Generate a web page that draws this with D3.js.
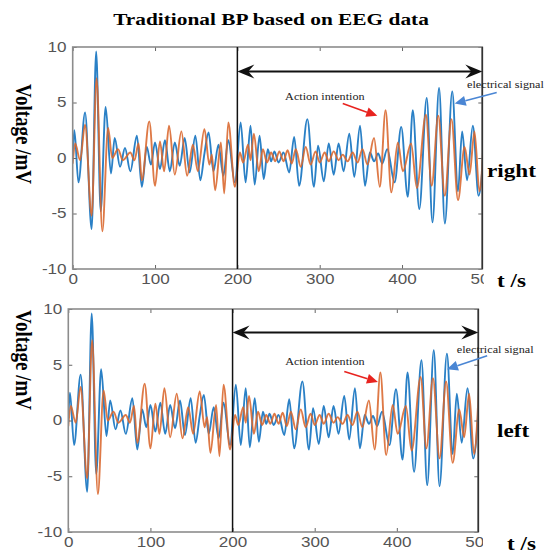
<!DOCTYPE html>
<html lang="en">
<head>
<meta charset="UTF-8">
<title>Traditional BP based on EEG data</title>
<script src="https://d3js.org/d3.v7.min.js"></script>
<style>
  body { margin: 0; background: #fff; }
  .tick text { font-family: "Liberation Sans", Arial, sans-serif; font-size: 14px; fill: #555; }
  .tick line { stroke: #666; }
  .serif { font-family: "Liberation Serif", "Times New Roman", serif; }
</style>
</head>
<body>
<div id="chart"></div>
<script>
var width = 550, height = 559;
// the source picture is stretched sideways, so text gets the same stretch
var SX = 1.22;

// ---- data ----
var xTicks = [0, 100, 200, 300, 400, 500];
var yTicks = [-10, -5, 0, 5, 10];
var yDomain = [-10, 10];
var markTime = 200;
var panelNames = ["right", "left"];

// electrical signal (blue): [time, voltage] turning points
var electricalSignal = [
  [0,0.2],[2,2.5],[7,-2.2],[15,4.1],[23,-6.4],[28.5,9.6],[34,-4.8],[40,4.6],[46.5,-1.4],[51,1.8],
  [57.5,-0.8],[63.5,0.9],[70,-1.2],[78,2.0],[84,-2.6],[90,1.0],[95,-0.6],[100,1.4],[106,-1.0],[112,1.6],
  [118,-1.2],[124,1.4],[130,-0.7],[136,1.8],[142,-1.3],[149,2.0],[155,-2.0],[160,0.4],[165,2.3],[171,-1.2],
  [177,1.2],[183,-1.6],[189,1.6],[197,-2.2],[204,3.2],[210,-2.2],[216,2.9],[221,-2.4],[227,2.0],[232,-1.9],
  [237,0.8],[241,-0.3],[245,0.6],[250,-0.4],[256,0.5],[263,-1.3],[269,1.9],[275,-2.5],[285,3.5],[293,-2.6],
  [298,1.1],[305,-2.1],[311,1.3],[317,-1.5],[323,1.3],[329,-1.2],[336,2.2],[342,-1.7],[349,2.9],[355,-2.5],
  [361,0.5],[366,-0.3],[371,0.4],[376,-0.5],[382,0.8],[391,-2.2],[399,2.8],[407,-3.5],[413,4.3],[421,-4.6],
  [430,5.4],[437,-5.8],[445,6.3],[452,-5.9],[461,6.0],[468,-3.0],[473,2.4],[479,-2.0],[486,2.9],[493,-3.4],
  [500,1.5]
];

// action intention (orange): [time, voltage] turning points
var actionIntention = [
  [0,-0.5],[3,1.3],[9,-0.2],[15,3.0],[23,-5.2],[29,7.2],[36,-6.6],[43,2.7],[48,0.0],[55,0.8],
  [61,-0.2],[70,0.5],[75,-0.2],[80,1.3],[84,-2.0],[93,3.3],[100,-2.5],[106,1.5],[111,-1.2],[117,2.9],
  [124,-1.5],[132,2.4],[139,-1.6],[146,1.2],[152,-1.2],[160,2.6],[166,-0.6],[169,0.3],[173,-2.9],[180,1.4],
  [184,-3.2],[189,3.2],[197,-2.6],[203,0.5],[207,-0.4],[213,1.2],[216,-0.2],[220,2.2],[226,-1.2],[231,0.8],
  [236,-0.4],[241,0.5],[246,-0.3],[251,0.6],[256,-0.3],[261,0.7],[266,-0.5],[271,0.8],[277,-0.8],[283,1.0],
  [289,-0.6],[295,0.6],[300,-0.4],[306,0.5],[311,-0.3],[317,0.6],[323,-0.2],[328,0.3],[334,-0.3],[340,0.5],
  [346,-0.4],[352,0.8],[358,-0.6],[366,1.8],[373,-2.6],[380,4.3],[387,-3.1],[395,1.4],[401,-1.2],[411,1.3],
  [418,-2.7],[429,3.9],[436,-2.5],[444,3.8],[452,-3.4],[460,3.5],[468,-3.8],[476,1.0],[482,-1.5],[488,2.4],
  [494,-3.0],[500,3.0]
];

// ---- layout of the two panels ----
var panels = [
  { top: 47, bottom: 269, left: 72.7, right: 482.3, xMax: 497.5, clipRight: 483.8,
    arrowV: 7.8, red: [[328,4.9],[370,3.8]], redText: [258,5.2],
    blue: [[515,5.9],[464,4.9]], blueText: [479,6.3],
    yLabelY: 134, sideX: 487, sideY: 177, unitX: 497, unitY: 287 },
  { top: 309, bottom: 532, left: 68.3, right: 478.3, xMax: 499.2, clipRight: 483,
    arrowV: 7.9, red: [[336,4.4],[377,3.45]], redText: [264,5.0],
    blue: [[510,5.8],[461,4.6]], blueText: [473,6.05],
    yLabelY: 360, sideX: 497, sideY: 437, unitX: 507, unitY: 550 }
];

var blue = "#2a80c6", orange = "#d9662c";

var svg = d3.select("#chart").append("svg")
    .attr("width", width)
    .attr("height", height);

function stretchedText(sel, x, y, txt) {
  return sel.append("text")
    .attr("transform", "translate(" + x + "," + y + ") scale(" + SX + ",1)")
    .text(txt);
}

// small arrow with a filled triangular head
function drawArrow(g, x1, y1, x2, y2, color) {
  var a = Math.atan2(y2 - y1, x2 - x1), len = 11, w = 5;
  var bx = x2 - len * Math.cos(a), by = y2 - len * Math.sin(a);
  g.append("line")
    .attr("x1", x1).attr("y1", y1).attr("x2", bx).attr("y2", by)
    .attr("stroke", color).attr("stroke-width", 1.6);
  g.append("path")
    .attr("d", "M" + x2 + "," + y2 +
      "L" + (bx + w * Math.sin(a)) + "," + (by - w * Math.cos(a)) +
      "L" + (bx - w * Math.sin(a)) + "," + (by + w * Math.cos(a)) + "Z")
    .attr("fill", color);
}

// title
stretchedText(svg, 271, 25, "Traditional BP based on EEG data")
  .attr("class", "serif")
  .attr("text-anchor", "middle")
  .style("font-weight", "bold")
  .style("font-size", "17.5px");

panels.forEach(function(p, i) {
  var x = d3.scaleLinear().domain([0, p.xMax]).range([p.left, p.right]);
  var y = d3.scaleLinear().domain(yDomain).range([p.bottom, p.top]);
  var g = svg.append("g");

  var defs = g.append("defs");
  defs.append("clipPath").attr("id", "plot" + i).append("rect")
    .attr("x", p.left).attr("y", p.top)
    .attr("width", p.right - p.left).attr("height", p.bottom - p.top);
  defs.append("clipPath").attr("id", "labels" + i).append("rect")
    .attr("x", 0).attr("y", 0).attr("width", p.clipRight).attr("height", height);

  // signals
  var line = d3.line()
    .x(function(d) { return x(d[0]); })
    .y(function(d) { return y(d[1]); })
    .curve(d3.curveMonotoneX);

  var plot = g.append("g").attr("clip-path", "url(#plot" + i + ")");
  plot.append("path").datum(electricalSignal)
    .attr("d", line).attr("fill", "none")
    .attr("stroke", blue).attr("stroke-width", 1.9);
  plot.append("path").datum(actionIntention)
    .attr("d", line).attr("fill", "none")
    .attr("stroke", orange).attr("stroke-width", 1.9).attr("opacity", 0.88);

  // axes
  var plain = function(d) { return String(d); };
  var xb = g.append("g").attr("clip-path", "url(#labels" + i + ")")
    .append("g").attr("transform", "translate(0," + p.bottom + ")")
    .call(d3.axisBottom(x).tickValues(xTicks).tickSize(-4).tickPadding(5).tickFormat(plain));
  xb.selectAll(".tick text").attr("transform", "scale(" + SX + ",1)");
  xb.selectAll(".tick line").filter(function(d) { return d > p.xMax; }).remove();

  var xt = g.append("g").attr("transform", "translate(0," + p.top + ")")
    .call(d3.axisTop(x).tickValues(xTicks.filter(function(d) { return d <= p.xMax; }))
      .tickSize(-4).tickFormat(""));

  var yl = g.append("g").attr("transform", "translate(" + p.left + ",0)")
    .call(d3.axisLeft(y).tickValues(yTicks).tickSize(-4).tickPadding(5).tickFormat(plain));
  yl.selectAll(".tick text").attr("transform", "scale(" + SX + ",1)");

  var yr = g.append("g").attr("transform", "translate(" + p.right + ",0)")
    .call(d3.axisRight(y).tickValues(yTicks).tickSize(-4).tickFormat(""));

  [xb, xt, yl, yr].forEach(function(a) { a.select(".domain").remove(); });

  // box
  g.append("rect")
    .attr("x", p.left).attr("y", p.top)
    .attr("width", p.right - p.left).attr("height", p.bottom - p.top)
    .attr("fill", "none").attr("stroke", "#8c8c8c").attr("stroke-width", 1.6);
  g.append("line")
    .attr("x1", p.right).attr("x2", p.right).attr("y1", p.top).attr("y2", p.bottom)
    .attr("stroke", "#333").attr("stroke-width", 1.6);

  // marker at t = 200
  g.append("line")
    .attr("x1", x(markTime)).attr("x2", x(markTime))
    .attr("y1", p.top).attr("y2", p.bottom)
    .attr("stroke", "#111").attr("stroke-width", 1.5);

  // double arrow from the marker to the end
  var ax0 = x(markTime), ax1 = x(p.xMax), ay = y(p.arrowV);
  g.append("line")
    .attr("x1", ax0 + 8).attr("x2", ax1 - 8).attr("y1", ay).attr("y2", ay)
    .attr("stroke", "#111").attr("stroke-width", 2);
  g.append("path")
    .attr("d", "M" + ax0 + "," + ay + "L" + (ax0 + 17) + "," + (ay - 7) +
      "L" + (ax0 + 11) + "," + ay + "L" + (ax0 + 17) + "," + (ay + 7) + "Z")
    .attr("fill", "#111");
  g.append("path")
    .attr("d", "M" + ax1 + "," + ay + "L" + (ax1 - 17) + "," + (ay - 7) +
      "L" + (ax1 - 11) + "," + ay + "L" + (ax1 - 17) + "," + (ay + 7) + "Z")
    .attr("fill", "#111");

  // annotations
  drawArrow(g, x(p.red[0][0]), y(p.red[0][1]), x(p.red[1][0]), y(p.red[1][1]), "#e8231f");
  drawArrow(g, x(p.blue[0][0]), y(p.blue[0][1]), x(p.blue[1][0]), y(p.blue[1][1]), "#4a86d4");
  stretchedText(g, x(p.redText[0]), y(p.redText[1]), "Action intention")
    .attr("class", "serif").style("font-size", "10px").attr("fill", "#222");
  stretchedText(g, x(p.blueText[0]), y(p.blueText[1]), "electrical signal")
    .attr("class", "serif").style("font-size", "10px").attr("fill", "#222");

  // labels
  g.append("text")
    .attr("class", "serif")
    .attr("transform", "translate(16," + p.yLabelY + ") scale(" + SX + ",1) rotate(90)")
    .attr("text-anchor", "middle")
    .style("font-weight", "bold").style("font-size", "19px")
    .text("Voltage /mV");
  stretchedText(g, p.sideX, p.sideY, panelNames[i])
    .attr("class", "serif").style("font-weight", "bold").style("font-size", "19px");
  stretchedText(g, p.unitX, p.unitY, "t /s")
    .attr("class", "serif").style("font-weight", "bold").style("font-size", "19px");
});
</script>
</body>
</html>
